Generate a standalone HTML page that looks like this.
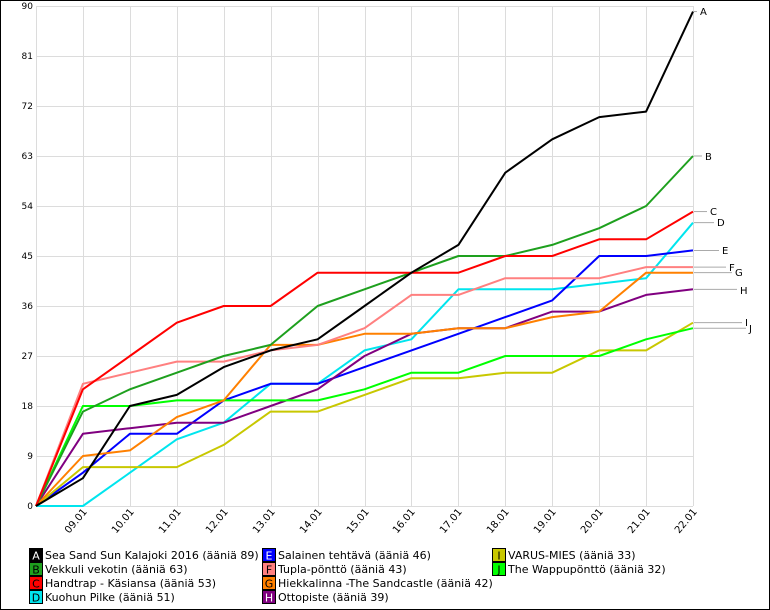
<!DOCTYPE html>
<html><head><meta charset="utf-8"><style>
body{margin:0;background:#fff}
svg{display:block;font-family:"DejaVu Sans","Liberation Sans",sans-serif}
</style></head><body>
<svg width="770" height="610" xmlns="http://www.w3.org/2000/svg">
<rect x="0.5" y="0.5" width="769" height="609" fill="#fff" stroke="#000"/>
<g id="grid" stroke="#dcdcdc" stroke-width="1"></g>
<g id="ylab" font-size="9" fill="#000" text-anchor="end"></g>
<g id="xlab" font-size="10" fill="#000"></g>
<g id="series" fill="none" stroke-width="2" stroke-linejoin="round"></g>
<g id="tags" font-size="10" fill="#000"></g>
<g id="legend" font-size="11" fill="#000"></g>
<script>
var ns="http://www.w3.org/2000/svg";
function el(p,t,a,txt){var e=document.createElementNS(ns,t);for(var k in a)e.setAttribute(k,a[k]);if(txt!=null)e.textContent=txt;document.getElementById(p).appendChild(e);return e;}
var X=function(i){return 36+46.93*i;},Y=function(v){return 506-v*500/90;};
for(var v=0;v<=90;v+=9){el("grid","line",{x1:36,x2:693,y1:Y(v)+.5,y2:Y(v)+.5});el("ylab","text",{x:33,y:Y(v)+3},v);}
var d=["08.01","09.01","10.01","11.01","12.01","13.01","14.01","15.01","16.01","17.01","18.01","19.01","20.01","21.01","22.01"];
for(var i=0;i<15;i++){var x=Math.round(X(i))+.5;el("grid","line",{x1:x,x2:x,y1:Y(90),y2:506});
if(i>0)el("xlab","text",{x:0,y:0,"text-anchor":"end",transform:"translate("+(x+4)+",512) rotate(-50)"},d[i]);}
var S=[
["A","#000",[0,5,18,20,25,28,30,36,42,47,60,66,70,71,89],"Sea Sand Sun Kalajoki 2016 (ääniä 89)","#fff",700,15],
["B","#1ea01e",[0,17,21,24,27,29,36,39,42,45,45,47,50,54,63],"Vekkuli vekotin (ääniä 63)","#000",705,160],
["C","#f00",[0,21,27,33,36,36,42,42,42,42,45,45,48,48,53],"Handtrap - Käsiansa (ääniä 53)","#000",710,215],
["D","#00e5ee",[0,0,6,12,15,22,22,28,30,39,39,39,40,41,51],"Kuohun Pilke (ääniä 51)","#000",717,226],
["E","#0000ff",[0,6,13,13,19,22,22,25,28,31,34,37,45,45,46],"Salainen tehtävä (ääniä 46)","#fff",722,254],
["F","#ff8080",[0,22,24,26,26,28,29,32,38,38,41,41,41,43,43],"Tupla-pönttö (ääniä 43)","#000",729,271],
["G","#ff8000",[0,9,10,16,19,29,29,31,31,32,32,34,35,42,42],"Hiekkalinna -The Sandcastle (ääniä 42)","#000",735,276],
["H","#800080",[0,13,14,15,15,18,21,27,31,32,32,35,35,38,39],"Ottopiste (ääniä 39)","#fff",740,294],
["I","#c8c800",[0,7,7,7,11,17,17,20,23,23,24,24,28,28,33],"VARUS-MIES (ääniä 33)","#000",745,326],
["J","#00ff00",[0,18,18,19,19,19,19,21,24,24,27,27,27,30,32],"The Wappupönttö (ääniä 32)","#000",749,332]];
var order=[3,4,7,8,9,6,5,1,2,0];
order.forEach(function(k){var s=S[k];var pts=s[2].map(function(v,i){return X(i).toFixed(1)+","+Y(v).toFixed(1)}).join(" ");
el("series","polyline",{points:pts,stroke:s[1]});});
S.forEach(function(s,k){var y=Y(s[2][14]);el("grid","line",{x1:694,x2:s[5]-3,y1:y,y2:y,stroke:"#aaa"});
el("tags","text",{x:s[5],y:s[6]},s[0]);
var col=Math.floor(k/4),row=k%4;if(k>=8){col=2;row=k-8;}
var lx=[29,262,492][col],ly=548+row*14;
el("legend","rect",{x:lx+.5,y:ly+.5,width:13,height:13,fill:s[1],stroke:"#000"});
el("legend","text",{x:lx+7,y:ly+11.5,fill:s[4],"font-size":"11","text-anchor":"middle"},s[0]);
el("legend","text",{x:lx+16,y:ly+11},s[3]);});
</script>
</svg>
</body></html>
